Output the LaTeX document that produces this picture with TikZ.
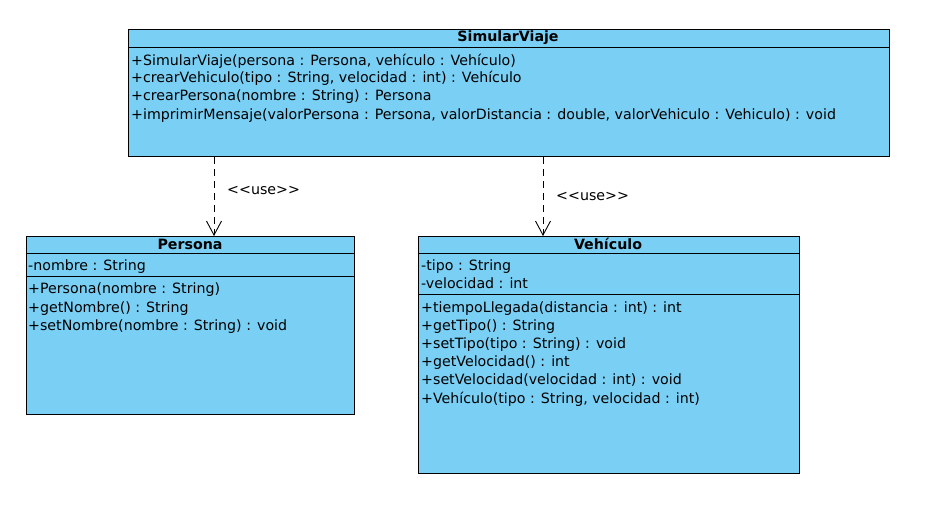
\documentclass[tikz,border=0pt]{standalone}
\usepackage{fontspec}
\setmainfont{DejaVu Sans}
\usetikzlibrary{arrows.meta}
\definecolor{classblue}{RGB}{122,207,244}
\newcommand\stereo[1]{<\kern0pt<#1>\kern0pt>}

\begin{document}
\begin{tikzpicture}[x=1pt,y=-1pt,
    classbox/.style={draw=black,fill=classblue,line width=1pt,anchor=north west,inner sep=0pt},
    title/.style={font=\bfseries\fontsize{14.2}{16}\selectfont,inner sep=0pt},
    member/.style={font=\fontsize{14.2}{16}\selectfont,anchor=base west,inner sep=0pt},
    use/.style={dash pattern=on 7pt off 5pt,line width=0.9pt,-{Straight Barb[length=14pt,width=15pt]}}]
    \useasboundingbox (0,0) rectangle (935,512);

    % SimularViaje
    \node[classbox,minimum width=761pt,minimum height=127pt] (sim) at (128,29) {};
    \node[title] (sim-t) at (508,38) {SimularViaje};
    \draw[line width=1pt] (sim.west |- 0,47) -- (sim.east |- 0,47);
    \node[member] (sim-m1) at (131,65) {+SimularViaje(persona : Persona, vehículo : Vehículo)};
    \node[member] (sim-m2) at (131,82) {+crearVehiculo(tipo : String, velocidad : int) : Vehículo};
    \node[member] (sim-m3) at (131,100) {+crearPersona(nombre : String) : Persona};
    \node[member] (sim-m4) at (131,119) {+imprimirMensaje(valorPersona : Persona, valorDistancia : double, valorVehiculo : Vehiculo) : void};

    % Persona
    \node[classbox,minimum width=328pt,minimum height=178pt] (per) at (26,236) {};
    \node[title] (per-t) at (190,244) {Persona};
    \draw[line width=1pt] (per.west |- 0,253) -- (per.east |- 0,253);
    \node[member] (per-a1) at (28,270) {-nombre : String};
    \draw[line width=1pt] (per.west |- 0,276) -- (per.east |- 0,276);
    \node[member] (per-m1) at (28,293) {+Persona(nombre : String)};
    \node[member] (per-m2) at (28,312) {+getNombre() : String};
    \node[member] (per-m3) at (28,330) {+setNombre(nombre : String) : void};

    % Vehiculo
    \node[classbox,minimum width=381pt,minimum height=237pt] (veh) at (418,236) {};
    \node[title] (veh-t) at (608,244) {Vehículo};
    \draw[line width=1pt] (veh.west |- 0,253) -- (veh.east |- 0,253);
    \node[member] (veh-a1) at (421,270) {-tipo : String};
    \node[member] (veh-a2) at (421,288) {-velocidad : int};
    \draw[line width=1pt] (veh.west |- 0,294) -- (veh.east |- 0,294);
    \node[member] (veh-m1) at (421,312) {+tiempoLlegada(distancia : int) : int};
    \node[member] (veh-m2) at (421,330) {+getTipo() : String};
    \node[member] (veh-m3) at (421,348) {+setTipo(tipo : String) : void};
    \node[member] (veh-m4) at (421,366) {+getVelocidad() : int};
    \node[member] (veh-m5) at (421,384) {+setVelocidad(velocidad : int) : void};
    \node[member] (veh-m6) at (421,403) {+Vehículo(tipo : String, velocidad : int)};

    % dependencias
    \draw[use] (214,0 |- sim.south) -- (214,0 |- per.north);
    \node[member] (use1) at (227,194) {\stereo{use}};
    \draw[use] (543,0 |- sim.south) -- (543,0 |- veh.north);
    \node[member] (use2) at (556,200) {\stereo{use}};
\end{tikzpicture}
\end{document}
